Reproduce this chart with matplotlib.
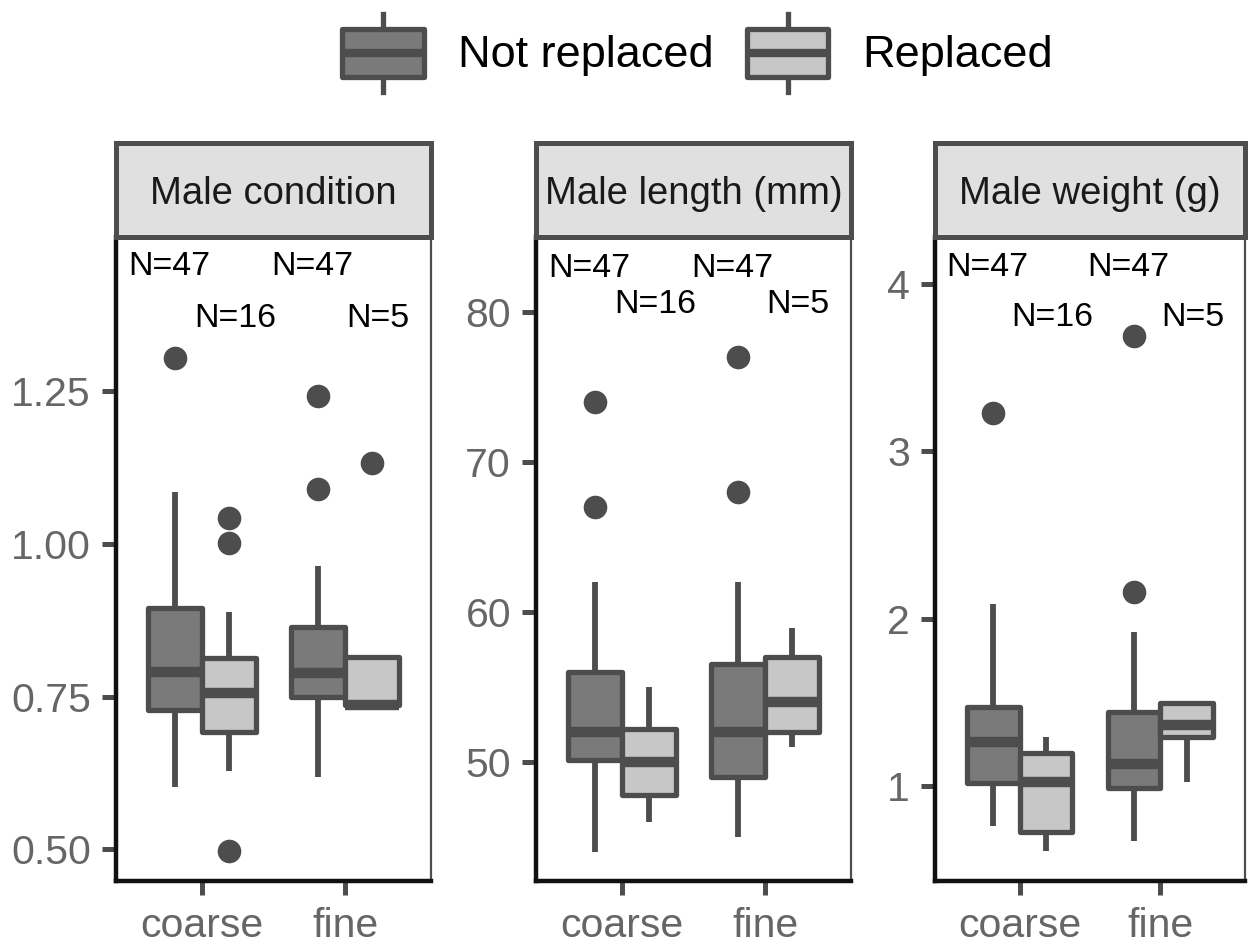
import matplotlib
matplotlib.use('Agg')
import matplotlib.pyplot as plt
from matplotlib.patches import Rectangle
from matplotlib.lines import Line2D
from matplotlib.legend_handler import HandlerBase

plt.rcParams['font.family'] = ['Liberation Sans', 'DejaVu Sans']

# DATA
panels = ['Male condition', 'Male length (mm)', 'Male weight (g)']
sediments = ['coarse', 'fine']
groups = ['Not replaced', 'Replaced']
n_labels = ['N=47', 'N=16', 'N=47', 'N=5']   # coarse NR, coarse R, fine NR, fine R

# (whislo, q1, median, q3, whishi) for coarse NR, coarse R, fine NR, fine R
cond_stats = [(0.602, 0.728, 0.790, 0.895, 1.084),
              (0.628, 0.692, 0.756, 0.813, 0.888),
              (0.618, 0.749, 0.788, 0.864, 0.963),
              (0.736, 0.736, 0.736, 0.815, 0.815)]
cond_fliers = [[1.303], [1.042, 1.001, 0.498], [1.241, 1.089], [1.132]]

length_stats = [(44.0, 50.1, 52.0, 56.0, 62.0),
                (46.0, 47.8, 50.0, 52.2, 55.0),
                (45.0, 49.0, 52.0, 56.5, 62.0),
                (51.0, 52.0, 54.0, 57.0, 58.9)]
length_fliers = [[74.0, 67.0], [], [77.0, 68.0], []]

weight_stats = [(0.76, 1.02, 1.26, 1.47, 2.09),
                (0.61, 0.725, 1.024, 1.197, 1.293),
                (0.67, 0.988, 1.131, 1.442, 1.92),
                (1.024, 1.293, 1.365, 1.496, 1.496)]
weight_fliers = [[3.23], [], [2.16, 3.69], []]

all_stats = [cond_stats, length_stats, weight_stats]
all_fliers = [cond_fliers, length_fliers, weight_fliers]

yticks = [[0.50, 0.75, 1.00, 1.25], [50, 60, 70, 80], [1, 2, 3, 4]]
yticklabels = [['0.50', '0.75', '1.00', '1.25'], ['50', '60', '70', '80'], ['1', '2', '3', '4']]

# STYLE / LAYOUT
ylims = [(0.4485, 1.501), (42.04, 85.03), (0.432, 4.28)]
n_label_y = [(1.452, 1.368), (82.96, 80.55), (4.096, 3.797)]
axes_left = [116, 536, 935]
axes_width = [315, 315, 310]
edge = '#4D4D4D'
fills = ['#7A7A7A', '#C6C7C6']
W, H = 1248, 944


class BoxHandler(HandlerBase):
    def create_artists(self, legend, orig_handle, xdescent, ydescent,
                       width, height, fontsize, trans):
        x0, y0 = -xdescent, -ydescent
        fc = orig_handle.get_facecolor()
        lo, hi = y0 + 0.2 * height, y0 + 0.8 * height
        wl = Line2D([x0 + width / 2] * 2, [y0, lo], color=edge, lw=3.8, transform=trans)
        wh = Line2D([x0 + width / 2] * 2, [hi, y0 + height], color=edge, lw=3.8, transform=trans)
        box = Rectangle((x0, lo), width, hi - lo, facecolor=fc, edgecolor=edge,
                        lw=3.8, joinstyle='round', transform=trans)
        med = Line2D([x0, x0 + width], [y0 + 0.5 * height] * 2, color=edge, lw=6,
                     solid_capstyle='butt', transform=trans)
        return [wl, wh, box, med]


fig = plt.figure(figsize=(W / 100, H / 100), dpi=100)

for p in range(3):
    ax = fig.add_axes([axes_left[p] / W, 1 - 881 / H, axes_width[p] / W, 644 / H])
    stats = []
    positions = []
    for i in range(4):
        lo, q1, med, q3, hi = all_stats[p][i]
        stats.append(dict(whislo=lo, q1=q1, med=med, q3=q3, whishi=hi,
                          fliers=all_fliers[p][i]))
        cat = i // 2 + 1
        positions.append(cat - 0.1875 if i % 2 == 0 else cat + 0.1875)
    bp = ax.bxp(stats, positions=positions, widths=0.375, patch_artist=True,
                showcaps=False,
                boxprops=dict(edgecolor=edge, linewidth=3.8, joinstyle='round'),
                whiskerprops=dict(color=edge, linewidth=4.2, solid_capstyle='butt'),
                medianprops=dict(color=edge, linewidth=7.5, solid_capstyle='butt'),
                flierprops=dict(marker='o', markerfacecolor=edge, markeredgecolor='none',
                                markersize=17))
    for i, b in enumerate(bp['boxes']):
        b.set_facecolor(fills[i % 2])

    for i, lab in enumerate(n_labels):
        cat = i // 2 + 1
        x = cat - 0.23 if i % 2 == 0 else cat + 0.23
        ax.text(x, n_label_y[p][i % 2], lab, ha='center', va='center',
                fontsize=24.5, color='black')

    ax.set_xlim(0.4, 2.6)
    ax.set_ylim(*ylims[p])
    ax.set_xticks([1, 2])
    ax.set_xticklabels(sediments)
    ax.set_yticks(yticks[p])
    ax.set_yticklabels(yticklabels[p])
    ax.tick_params(axis='both', length=10, width=3.6, color=edge,
                   labelsize=29.5, labelcolor='#666666')
    ax.tick_params(axis='x', pad=9)
    ax.tick_params(axis='y', pad=8)

    for s in ['left', 'bottom']:
        ax.spines[s].set_color('#111111')
        ax.spines[s].set_linewidth(3.2)
    ax.spines['right'].set_color(edge)
    ax.spines['right'].set_linewidth(1.6)
    ax.spines['top'].set_visible(False)

    strip = Rectangle((0, 1), 1, 94 / 644, transform=ax.transAxes, clip_on=False,
                      facecolor='#E0E0E0', edgecolor=edge, lw=3.6, zorder=5)
    ax.add_patch(strip)
    ax.text(0.5, 1 + 43 / 644, panels[p], transform=ax.transAxes, ha='center',
            va='center', fontsize=27.5, color='#1A1A1A', zorder=6)

handles = [Rectangle((0, 0), 1, 1, facecolor=f) for f in fills]
fig.legend(handles, groups, handler_map={Rectangle: BoxHandler()},
           loc='center', bbox_to_anchor=(0.559, 1 - 53 / H), ncol=2, frameon=False,
           fontsize=32.5, handlelength=1.8, handleheight=2.3, handletextpad=0.75,
           columnspacing=0.75)

fig.savefig('out.png', dpi=100)
